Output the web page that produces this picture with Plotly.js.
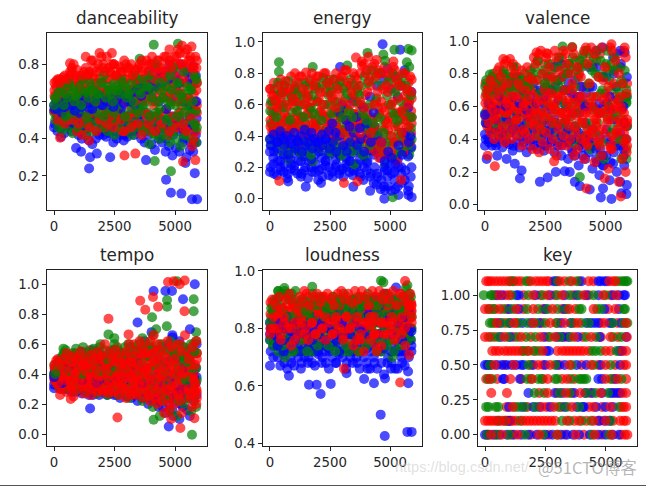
<!DOCTYPE html>
<html><head><meta charset="utf-8">
<script src="https://cdn.plot.ly/plotly-3.0.1.min.js"></script>
<style>html,body{margin:0;padding:0;background:#fff}</style></head>
<body><div id="chart" style="width:646px;height:486px"></div>
<script>
const titles=['danceability','energy','valence','tempo','loudness','key'];
const xTicks=[0,2500,5000];
const xB=[0,140,290,430,570,720,860,1010,1150,1290,1440,1580,1730,1870,2010,2160,2300,2450,2590,2730,2880,3020,3170,3310,3450,3600,3740,3890,4030,4170,4320,4460,4610,4750,4890,5040,5180,5320,5470,5610,5750,5890];
const xG=[50,190,340,480,620,770,910,1060,1200,1340,1490,1630,1780,1920,2060,2210,2350,2500,2640,2780,2930,3070,3220,3360,3500,3650,3790,3940,4080,4220,4370,4510,4660,4800,4940,5090,5230,5370,5520,5660,5800,5870];
const xR=[90,230,380,520,660,810,950,1100,1240,1380,1530,1670,1820,1960,2100,2250,2390,2540,2680,2820,2970,3110,3260,3400,3540,3690,3830,3980,4120,4260,4410,4550,4700,4840,4980,5130,5270,5410,5560,5700,5840,5880];
const xB2=[30,170,320,460,600,750,890,1040,1180,1320,1470,1610,1760,1900,2040,2190,2330,2480,2620,2760,2910,3050,3200,3340,3480,3630,3770,3920,4060,4200,4350,4490,4640,4780,4920,5070,5210,5350,5500,5640,5780,5860];
const xG2=[10,120,270,410,550,700,840,990,1130,1270,1420,1560,1710,1850,1990,2140,2280,2430,2570,2710,2860,3000,3150,3290,3430,3580,3720,3870,4010,4150,4300,4440,4590,4730,4870,5020,5160,5300,5450,5590,5730,5900];
const xR2=[20,160,310,450,590,740,880,1030,1170,1310,1460,1600,1750,1890,2030,2180,2320,2470,2610,2750,2900,3040,3190,3330,3470,3620,3760,3910,4050,4190,4340,4480,4630,4770,4910,5060,5200,5340,5490,5630,5770,5900];

const dB1=[.46,.44,.41,.43,.47,.44,.46,.42,.40,.45,.39,.37,.40,.42,.44,.41,.43,.38,.40,.42,.39,.41,.44,.42,.45,.40,.38,.42,.37,.34,.40,.38,.33,.36,.31,.35,.33,.38,.30,.34,.33,.38];
const dB2=[.55,.52,.50,.53,.49,.52,.48,.51,.47,.50,.53,.49,.52,.50,.47,.53,.51,.48,.52,.50,.47,.51,.53,.49,.52,.55,.50,.53,.48,.52,.46,.50,.45,.48,.52,.47,.50,.45,.48,.52,.47,.51];
const dB3=[.58,.56,.60,.57,.61,.58,.55,.60,.57,.62,.59,.56,.61,.63,.58,.60,.62,.57,.61,.64,.59,.62,.60,.65,.68,.63,.70,.66,.72,.68,.74,.70,.76,.72,.77,.74,.70,.78,.75,.72,.79,.60];
const dB4=[.48,.50,.46,.48,.52,.46,.50,.44,.48,.42,.46,.50,.44,.48,.42,.46,.50,.44,.46,.50,.42,.46,.48,.44,.48,.46,.44,.46,.50,.44,.42,.46,.40,.44,.42,.50,.44,.40,.46,.38,.44,.42];
const dB5=[.56,.60,.54,.58,.62,.56,.60,.54,.58,.64,.56,.60,.66,.58,.62,.66,.58,.64,.60,.56,.66,.60,.64,.58,.70,.60,.66,.76,.62,.78,.60,.74,.56,.80,.62,.66,.80,.60,.76,.58,.70,.74];
const dG1=[.50,.46,.44,.50,.46,.43,.48,.52,.45,.42,.48,.44,.50,.46,.52,.44,.48,.42,.46,.50,.44,.48,.42,.46,.50,.44,.47,.37,.43,.48,.40,.46,.50,.38,.44,.48,.36,.42,.52,.40,.46,.38];
const dG2=[.62,.56,.60,.52,.58,.54,.62,.56,.60,.52,.58,.62,.54,.60,.52,.56,.62,.54,.58,.62,.52,.60,.56,.62,.54,.58,.62,.52,.60,.54,.56,.62,.50,.58,.64,.52,.60,.54,.62,.56,.48,.55];
const dG3=[.62,.65,.68,.64,.70,.66,.63,.68,.72,.65,.70,.66,.64,.70,.74,.68,.64,.70,.66,.72,.68,.64,.70,.74,.66,.72,.68,.74,.66,.80,.70,.62,.68,.74,.78,.70,.64,.76,.68,.66,.74,.72];
const dG4=[.54,.52,.48,.54,.50,.56,.50,.46,.54,.48,.52,.48,.56,.50,.46,.54,.48,.52,.50,.46,.54,.50,.46,.52,.56,.48,.44,.54,.48,.42,.52,.46,.42,.52,.46,.40,.54,.48,.42,.50,.56,.46];
const dG5=[.58,.62,.66,.58,.62,.68,.60,.64,.58,.66,.62,.68,.60,.64,.70,.62,.66,.60,.68,.64,.70,.62,.66,.60,.70,.64,.58,.68,.62,.72,.60,.66,.72,.60,.66,.58,.70,.62,.58,.66,.60,.70];
const dR1=[.60,.64,.56,.60,.54,.58,.44,.52,.62,.48,.56,.60,.50,.58,.46,.54,.60,.50,.56,.44,.52,.58,.48,.54,.60,.46,.52,.44,.58,.50,.46,.54,.42,.60,.48,.52,.58,.44,.56,.36,.48,.44];
const dR2=[.68,.72,.66,.70,.74,.68,.72,.66,.70,.74,.68,.72,.66,.70,.64,.72,.68,.74,.66,.70,.72,.66,.74,.68,.62,.70,.66,.72,.64,.68,.74,.66,.62,.70,.66,.72,.64,.70,.62,.68,.60,.66];
const dR3=[.71,.70,.73,.72,.76,.80,.77,.74,.76,.74,.82,.78,.80,.84,.76,.78,.80,.74,.79,.76,.80,.78,.74,.77,.80,.76,.82,.80,.76,.82,.78,.84,.80,.78,.84,.88,.80,.86,.82,.78,.84,.78];
const dR4=[.63,.61,.65,.62,.66,.60,.64,.62,.66,.60,.64,.66,.60,.65,.62,.66,.60,.64,.62,.67,.60,.64,.66,.60,.64,.68,.60,.64,.68,.60,.66,.62,.68,.64,.70,.60,.66,.62,.70,.60,.64,.58];
const dR5=[.70,.72,.68,.74,.70,.76,.72,.68,.74,.70,.76,.73,.70,.76,.78,.72,.76,.80,.72,.76,.72,.78,.70,.76,.72,.78,.72,.76,.80,.72,.78,.72,.76,.82,.74,.80,.76,.72,.78,.82,.74,.70];
const dR6=[.55,.50,.54,.48,.56,.50,.54,.48,.42,.52,.46,.54,.44,.50,.54,.48,.52,.46,.54,.50,.44,.52,.46,.54,.48,.42,.54,.48,.52,.44,.54,.48,.56,.44,.52,.46,.54,.48,.44,.52,.40,.54];
const dR7=[.66,.64,.70,.67,.72,.78,.74,.70,.72,.78,.75,.82,.76,.72,.80,.84,.76,.80,.74,.78,.82,.76,.80,.72,.78,.82,.74,.80,.84,.78,.82,.76,.84,.88,.80,.84,.86,.80,.88,.84,.78,.82];
const dOutBx=[910,1120,1490,1450,2320,1770,3800,4630,4830,5260,5700,5910,5815,5430,5770];
const dOutBy=[.35,.33,.30,.24,.30,.32,.285,.18,.11,.105,.075,.075,.215,.27,.38];
const dOutGx=[4120,5120,3540,4160,4830,5840,5840];
const dOutGy=[.905,.91,.83,.28,.225,.72,.55];
const dOutRx=[250,2910,3360,1460,1880,2390,1310,5330,5840,5680,5290,660];
const dOutRy=[.405,.31,.32,.39,.86,.86,.84,.277,.285,.895,.90,.805];

const eB1=[.17,.22,.15,.20,.17,.13,.19,.21,.16,.14,.18,.13,.20,.17,.12,.19,.21,.15,.17,.20,.16,.19,.22,.17,.15,.20,.16,.12,.18,.14,.10,.16,.06,.08,.14,.05,.12,.08,.16,.12,.05,.20];
const eB2=[.30,.26,.32,.24,.28,.33,.25,.29,.31,.24,.27,.30,.25,.28,.32,.26,.24,.29,.31,.25,.28,.33,.26,.24,.29,.31,.25,.28,.23,.31,.28,.30,.26,.20,.18,.22,.17,.25,.20,.30,.27,.33];
const eB3=[.38,.41,.36,.43,.38,.40,.35,.42,.37,.40,.44,.36,.42,.38,.36,.41,.38,.43,.48,.42,.55,.60,.50,.46,.62,.52,.45,.58,.48,.65,.55,.72,.80,.76,.83,.70,.78,.65,.72,.82,.58,.68];
const eB4=[.20,.16,.24,.18,.22,.16,.22,.18,.24,.16,.20,.24,.17,.22,.18,.14,.24,.20,.14,.22,.18,.14,.20,.24,.18,.22,.14,.20,.24,.16,.20,.14,.12,.18,.08,.16,.06,.20,.10,.18,.08,.14];
const eB5=[.34,.30,.36,.40,.34,.28,.38,.32,.36,.30,.34,.40,.32,.36,.30,.34,.38,.32,.36,.30,.40,.34,.30,.36,.42,.34,.38,.30,.42,.36,.46,.40,.36,.24,.30,.26,.22,.34,.28,.42,.36,.40];
const eG1=[.34,.42,.30,.37,.28,.25,.33,.38,.30,.27,.36,.31,.24,.33,.36,.30,.34,.28,.37,.33,.27,.32,.36,.30,.22,.35,.29,.26,.38,.30,.37,.33,.30,.22,.27,.34,.25,.30,.38,.35,.28,.32];
const eG2=[.48,.55,.45,.60,.50,.46,.55,.62,.48,.52,.45,.58,.50,.47,.55,.43,.52,.60,.46,.55,.50,.44,.57,.49,.45,.54,.60,.47,.44,.52,.42,.58,.46,.50,.60,.55,.48,.42,.55,.50,.62,.45];
const eG3=[.62,.70,.74,.68,.72,.75,.65,.70,.74,.66,.72,.75,.66,.72,.70,.77,.74,.68,.76,.72,.75,.70,.67,.76,.72,.68,.72,.78,.74,.82,.76,.80,.72,.88,.75,.80,.68,.74,.78,.72,.84,.66];
const eG4=[.38,.46,.36,.42,.34,.40,.30,.44,.36,.30,.40,.34,.28,.38,.32,.36,.40,.34,.30,.38,.32,.28,.42,.34,.30,.38,.34,.28,.40,.34,.42,.36,.34,.30,.36,.40,.28,.36,.30,.40,.34,.38];
const eG5=[.56,.62,.52,.66,.58,.62,.50,.68,.56,.60,.52,.64,.58,.54,.62,.50,.60,.66,.54,.62,.58,.52,.64,.56,.52,.62,.66,.54,.50,.60,.48,.64,.52,.42,.66,.60,.54,.50,.62,.56,.68,.52];
const eR1=[.42,.38,.46,.40,.36,.42,.48,.38,.35,.44,.40,.37,.45,.39,.34,.42,.46,.37,.43,.40,.36,.44,.39,.34,.42,.46,.38,.35,.32,.44,.30,.26,.38,.34,.28,.36,.24,.40,.30,.45,.36,.42];
const eR2=[.55,.50,.60,.52,.58,.48,.62,.55,.50,.60,.54,.58,.48,.62,.56,.52,.60,.48,.56,.62,.52,.58,.50,.64,.54,.60,.52,.66,.58,.50,.62,.54,.58,.48,.52,.62,.55,.50,.58,.62,.52,.56];
const eR3=[.66,.62,.72,.68,.75,.70,.64,.74,.78,.70,.65,.76,.72,.78,.68,.80,.74,.66,.76,.70,.78,.82,.74,.68,.78,.72,.85,.80,.75,.84,.78,.80,.70,.72,.80,.84,.76,.72,.80,.70,.78,.68];
const eR4=[.46,.52,.44,.48,.54,.44,.50,.46,.52,.42,.48,.54,.44,.50,.46,.54,.42,.48,.52,.46,.54,.42,.50,.46,.54,.48,.42,.50,.54,.42,.46,.52,.36,.44,.50,.40,.46,.54,.42,.50,.46,.52];
const eR5=[.60,.66,.58,.64,.68,.60,.66,.70,.62,.68,.60,.66,.62,.70,.64,.60,.68,.72,.64,.58,.68,.62,.72,.60,.66,.70,.62,.58,.68,.72,.60,.68,.62,.56,.68,.60,.70,.64,.56,.66,.60,.64];
const eR6=[.50,.44,.56,.48,.42,.52,.44,.58,.46,.52,.48,.42,.54,.46,.40,.50,.44,.54,.40,.48,.44,.54,.46,.42,.50,.38,.46,.52,.38,.46,.36,.42,.32,.28,.44,.30,.36,.46,.42,.36,.52,.48];
const eR7=[.70,.74,.66,.76,.72,.68,.78,.72,.66,.78,.74,.70,.80,.74,.78,.72,.80,.76,.70,.80,.74,.78,.82,.72,.80,.76,.80,.86,.82,.78,.86,.82,.80,.84,.78,.74,.82,.78,.72,.80,.74,.76];
const eOutBx=[4690,1490,2125,3470,4170,4440,4760,5350,5760,5900,4790,760,2920,5420];
const eOutBy=[.985,.077,.10,.077,.05,.09,0,.024,.024,.01,.055,.11,.84,.95];
const eOutGx=[375,375,1780,3220,4060,4720,5180,5760,5900,5110,5700];
const eOutGy=[.87,.81,.84,.85,.93,.92,.95,.955,.945,.01,.87];
const eOutRx=[0,390,3080,3640,3580,1040,1500,3820,4100,4440,5140,5460];
const eOutRy=[.70,.113,.10,.11,.90,.80,.805,.875,.905,.885,.875,.12];

const vB1=[.36,.40,.36,.38,.42,.35,.40,.37,.33,.38,.35,.40,.32,.36,.40,.34,.38,.33,.36,.38,.32,.36,.30,.38,.28,.34,.30,.24,.35,.28,.32,.22,.28,.18,.24,.30,.15,.25,.20,.14,.30,.12];
const vB2=[.43,.50,.46,.52,.48,.44,.54,.50,.46,.52,.48,.44,.50,.55,.46,.52,.48,.44,.50,.46,.52,.48,.42,.50,.46,.40,.48,.44,.38,.50,.40,.46,.34,.42,.30,.46,.38,.52,.36,.44,.34,.48];
const vB3=[.55,.62,.70,.58,.66,.72,.60,.74,.66,.78,.62,.70,.58,.66,.74,.62,.70,.66,.78,.70,.84,.76,.86,.70,.80,.68,.76,.66,.72,.60,.84,.72,.94,.62,.96,.78,.66,.90,.72,.94,.60,.78];
const vB4=[.40,.38,.44,.36,.40,.46,.38,.44,.36,.42,.46,.38,.44,.40,.36,.44,.40,.36,.42,.40,.44,.38,.36,.44,.38,.32,.40,.36,.30,.42,.36,.38,.26,.34,.24,.40,.26,.32,.42,.36,.24,.40];
const vB5=[.50,.56,.60,.52,.58,.64,.52,.58,.66,.56,.60,.68,.54,.62,.58,.68,.56,.60,.70,.58,.72,.64,.78,.60,.74,.56,.64,.56,.62,.68,.72,.60,.84,.56,.78,.62,.58,.80,.64,.86,.50,.66];
const vG1=[.50,.46,.54,.44,.48,.52,.43,.50,.47,.54,.44,.50,.46,.53,.48,.42,.50,.45,.52,.46,.50,.42,.48,.52,.44,.38,.46,.38,.42,.48,.34,.36,.50,.30,.28,.52,.44,.36,.50,.28,.40,.34];
const vG2=[.68,.62,.72,.60,.66,.56,.70,.62,.74,.58,.68,.64,.74,.60,.70,.66,.56,.72,.62,.68,.58,.72,.64,.60,.70,.62,.56,.66,.60,.72,.60,.66,.58,.68,.56,.62,.70,.54,.64,.58,.66,.62];
const vG3=[.76,.70,.80,.74,.78,.82,.76,.72,.84,.78,.74,.80,.72,.78,.84,.88,.80,.74,.86,.82,.76,.90,.84,.80,.86,.90,.82,.88,.92,.94,.86,.90,.94,.88,.80,.94,.86,.90,.84,.76,.82,.70];
const vG4=[.56,.52,.60,.50,.58,.62,.50,.56,.64,.52,.60,.56,.64,.50,.60,.54,.48,.62,.54,.60,.50,.62,.56,.50,.60,.54,.48,.58,.50,.62,.50,.58,.44,.56,.38,.58,.60,.46,.56,.40,.52,.48];
const vG5=[.72,.66,.76,.68,.74,.70,.80,.68,.78,.72,.70,.76,.66,.72,.80,.76,.68,.82,.72,.78,.70,.84,.76,.70,.80,.84,.72,.78,.84,.86,.74,.82,.80,.78,.70,.86,.76,.82,.72,.68,.74,.66];
const vR1=[.48,.44,.40,.46,.42,.38,.44,.40,.46,.42,.36,.44,.40,.34,.42,.32,.38,.44,.34,.40,.30,.36,.42,.36,.40,.30,.34,.40,.28,.36,.44,.26,.38,.30,.44,.22,.34,.40,.14,.28,.20,.32];
const vR2=[.58,.66,.54,.70,.60,.66,.56,.62,.72,.58,.66,.54,.70,.62,.58,.68,.56,.64,.72,.60,.68,.56,.70,.62,.58,.66,.54,.72,.58,.46,.66,.52,.56,.46,.68,.58,.42,.66,.52,.58,.48,.40];
const vR3=[.70,.76,.72,.82,.78,.86,.74,.84,.80,.74,.82,.70,.78,.76,.86,.92,.80,.90,.84,.78,.90,.82,.94,.86,.80,.92,.84,.78,.94,.86,.96,.92,.78,.96,.84,.72,.94,.88,.80,.74,.90,.68];
const vR4=[.54,.50,.60,.52,.58,.48,.56,.50,.60,.52,.58,.46,.56,.50,.48,.56,.46,.54,.60,.50,.58,.46,.56,.52,.48,.56,.44,.60,.50,.38,.56,.42,.48,.36,.60,.50,.34,.58,.44,.50,.38,.52];
const vR5=[.66,.72,.62,.76,.68,.74,.64,.70,.78,.66,.74,.62,.76,.70,.66,.76,.64,.74,.78,.68,.76,.66,.78,.70,.64,.74,.62,.80,.66,.56,.74,.60,.66,.56,.76,.66,.52,.74,.60,.66,.56,.50];
const vR6=[.74,.70,.78,.72,.84,.80,.88,.78,.86,.84,.78,.74,.84,.82,.90,.88,.94,.86,.92,.86,.94,.88,.90,.92,.86,.96,.88,.84,.90,.96,.92,.84,.88,.92,.78,.84,.96,.82,.92,.84,.94,.74];
const vR7=[.62,.68,.58,.64,.56,.72,.62,.58,.66,.52,.72,.60,.64,.56,.52,.62,.50,.70,.66,.54,.62,.50,.66,.56,.52,.70,.48,.66,.52,.42,.62,.46,.52,.40,.64,.54,.36,.62,.46,.60,.44,.36];
const vOutBx=[70,510,900,1240,1520,1450,2280,2600,2940,3310,3520,3730,3940,4350,4810,5250,5660,5870,4900,5800];
const vOutBy=[.28,.30,.28,.25,.21,.16,.14,.167,.20,.205,.20,.14,.114,.093,.045,.035,.07,.065,.10,.93];
const vOutGx=[200,3220,3620,4140,3940,5870,5870];
const vOutGy=[.795,.967,.963,.40,.17,.63,.28];
const vOutRx=[410,110,2870,760,1040,2140,2555,4210,4970,5640,5250,5800];
const vOutRy=[.235,.30,.265,.89,.89,.93,.925,.10,.16,.05,.98,.96];

const tB1=[.33,.36,.30,.34,.30,.28,.32,.29,.27,.31,.26,.28,.30,.26,.28,.32,.27,.30,.26,.24,.28,.25,.30,.26,.22,.28,.24,.20,.26,.22,.18,.24,.14,.20,.16,.22,.10,.18,.24,.12,.30,.26];
const tB2=[.40,.44,.38,.42,.46,.40,.36,.44,.39,.35,.42,.37,.44,.40,.36,.42,.38,.34,.41,.37,.33,.40,.36,.32,.38,.42,.35,.30,.38,.33,.28,.36,.30,.24,.34,.28,.38,.32,.26,.36,.42,.38];
const tB3=[.38,.42,.46,.50,.44,.52,.47,.50,.55,.48,.52,.56,.50,.54,.48,.52,.46,.56,.50,.54,.47,.52,.58,.46,.50,.56,.62,.58,.68,.56,.50,.58,.48,.60,.66,.50,.62,.44,.55,.70,.54,.60];
const tB4=[.36,.32,.40,.30,.36,.33,.28,.36,.32,.28,.34,.26,.32,.36,.28,.26,.32,.26,.30,.28,.34,.26,.24,.30,.28,.24,.32,.26,.22,.30,.22,.18,.30,.24,.12,.28,.20,.32,.16,.28,.22,.34];
const tB5=[.42,.48,.34,.44,.40,.48,.42,.46,.36,.44,.48,.40,.34,.46,.42,.36,.44,.48,.38,.44,.40,.46,.42,.52,.46,.34,.44,.52,.36,.46,.42,.34,.44,.36,.52,.42,.30,.50,.34,.48,.38,.44];
const tG1=[.36,.32,.38,.30,.34,.36,.29,.33,.37,.28,.32,.34,.27,.31,.35,.26,.30,.33,.26,.34,.28,.24,.32,.27,.35,.22,.30,.25,.18,.28,.12,.22,.30,.15,.24,.12,.28,.20,.30,.15,.25,.18];
const tG2=[.44,.48,.42,.52,.46,.40,.50,.44,.48,.42,.52,.46,.40,.50,.44,.38,.48,.42,.50,.40,.46,.52,.40,.46,.42,.50,.38,.44,.50,.36,.46,.40,.34,.50,.40,.46,.36,.52,.40,.46,.34,.44];
const tG3=[.40,.46,.52,.56,.50,.54,.57,.52,.58,.54,.50,.57,.54,.60,.56,.50,.55,.60,.56,.52,.58,.60,.54,.56,.60,.64,.58,.60,.66,.70,.60,.55,.72,.62,.55,.60,.52,.58,.48,.60,.55,.62];
const tG4=[.40,.36,.44,.38,.42,.46,.34,.40,.44,.36,.44,.40,.34,.44,.38,.34,.42,.38,.32,.42,.36,.30,.42,.34,.40,.30,.38,.32,.40,.30,.38,.30,.24,.40,.32,.38,.22,.34,.40,.24,.30,.36];
const tG5=[.46,.42,.50,.54,.42,.48,.52,.46,.40,.50,.44,.54,.46,.42,.52,.46,.42,.54,.44,.48,.54,.44,.48,.52,.46,.56,.50,.52,.58,.46,.54,.48,.42,.56,.48,.54,.44,.50,.36,.52,.44,.54];
const tR1=[.34,.30,.36,.28,.32,.25,.30,.34,.27,.31,.26,.33,.28,.30,.35,.27,.30,.33,.26,.30,.24,.28,.33,.26,.30,.24,.28,.22,.30,.20,.26,.14,.24,.10,.20,.28,.14,.24,.30,.18,.28,.20];
const tR2=[.42,.38,.44,.40,.36,.42,.46,.38,.44,.40,.37,.43,.39,.45,.40,.36,.42,.38,.44,.35,.41,.37,.43,.38,.34,.40,.44,.36,.32,.40,.34,.28,.38,.32,.40,.26,.36,.42,.30,.38,.34,.30];
const tR3=[.49,.46,.50,.54,.48,.52,.50,.55,.50,.47,.53,.50,.55,.52,.60,.54,.50,.56,.52,.48,.55,.60,.52,.56,.62,.58,.54,.62,.66,.60,.56,.52,.62,.58,.50,.60,.55,.66,.50,.58,.46,.62];
const tR4=[.38,.34,.40,.44,.38,.32,.42,.36,.46,.34,.40,.46,.32,.38,.44,.32,.40,.46,.34,.40,.30,.44,.38,.30,.36,.44,.32,.38,.44,.28,.38,.44,.30,.20,.44,.34,.44,.30,.38,.26,.40,.24];
const tR5=[.46,.42,.48,.36,.50,.44,.40,.50,.46,.42,.48,.54,.42,.50,.46,.42,.48,.52,.40,.46,.50,.42,.48,.44,.54,.50,.42,.54,.48,.56,.50,.40,.54,.48,.30,.54,.42,.58,.46,.52,.36,.54];
const tR6=[.36,.40,.32,.38,.46,.30,.36,.42,.32,.38,.34,.30,.40,.34,.28,.38,.32,.28,.36,.32,.38,.30,.26,.34,.28,.36,.30,.26,.36,.24,.32,.22,.34,.16,.26,.36,.22,.30,.36,.24,.32,.28];
const tR7=[.44,.50,.46,.42,.52,.48,.54,.44,.52,.46,.56,.46,.52,.58,.50,.46,.56,.48,.58,.52,.46,.54,.48,.60,.46,.54,.60,.46,.56,.50,.44,.60,.46,.42,.56,.46,.60,.40,.56,.46,.60,.50];
const tOutBx=[0,1490,4115,4600,4875,5330,5815,3450,4740,4900];
const tOutBy=[.305,.17,.955,.955,.955,.90,1.0,.745,.05,.645];
const tOutGx=[390,2250,2490,4050,4670,4670,5770,5700,4115,5770,5870,5080];
const tOutGy=[.57,.665,.64,.78,.895,.85,.90,-.005,.095,.82,.68,1.02];
const tOutRx=[2250,2620,250,690,3560,3770,4090,4300,4710,4945,5400,5190,5390,5220,3080,5800];
const tOutRy=[.77,.11,.26,.234,.89,.83,.915,.85,1.015,1.02,1.025,1.0,.82,.04,.665,.105];

const lB1=[.76,.70,.74,.67,.71,.66,.70,.67,.72,.66,.70,.68,.72,.67,.71,.68,.72,.66,.70,.68,.71,.70,.66,.72,.68,.70,.66,.73,.68,.66,.70,.66,.72,.64,.68,.66,.72,.66,.70,.67,.65,.72];
const lB2=[.78,.74,.78,.75,.72,.76,.73,.78,.74,.72,.76,.73,.78,.74,.72,.76,.74,.73,.78,.75,.72,.76,.73,.78,.72,.74,.78,.76,.73,.78,.74,.76,.78,.73,.76,.72,.74,.78,.72,.75,.78,.74];
const lB3=[.82,.80,.77,.82,.80,.84,.79,.82,.78,.84,.80,.82,.78,.84,.80,.82,.86,.80,.84,.78,.86,.82,.88,.80,.86,.83,.80,.88,.84,.86,.90,.85,.88,.92,.84,.90,.86,.82,.88,.84,.80,.79];
const lB4=[.72,.76,.70,.72,.68,.74,.68,.72,.70,.68,.74,.70,.68,.72,.74,.70,.68,.72,.74,.68,.72,.74,.68,.70,.74,.68,.72,.70,.66,.72,.68,.72,.68,.74,.70,.68,.66,.72,.68,.72,.70,.76];
const lB5=[.80,.78,.74,.80,.76,.78,.82,.76,.80,.84,.78,.80,.76,.82,.78,.80,.76,.84,.80,.76,.82,.78,.84,.78,.82,.76,.86,.80,.78,.88,.82,.78,.86,.80,.88,.78,.84,.80,.76,.82,.86,.80];
const lG1=[.80,.76,.72,.74,.70,.76,.72,.78,.74,.72,.77,.74,.72,.76,.78,.74,.76,.80,.74,.77,.78,.72,.76,.80,.74,.72,.78,.74,.76,.80,.75,.78,.72,.76,.80,.70,.76,.74,.80,.76,.78,.76];
const lG2=[.84,.80,.86,.82,.78,.84,.80,.86,.82,.80,.84,.86,.82,.78,.85,.82,.86,.84,.80,.86,.83,.80,.85,.82,.86,.80,.84,.86,.82,.80,.84,.82,.86,.80,.84,.86,.82,.80,.85,.82,.84,.80];
const lG3=[.87,.90,.93,.92,.93,.90,.92,.93,.88,.90,.86,.89,.92,.88,.91,.90,.87,.89,.91,.88,.90,.92,.89,.87,.90,.91,.88,.90,.92,.89,.90,.88,.91,.92,.89,.91,.90,.87,.91,.94,.92,.91];
const lG4=[.76,.74,.78,.80,.74,.80,.76,.72,.78,.76,.80,.72,.76,.78,.74,.80,.78,.74,.78,.72,.76,.78,.74,.72,.78,.76,.72,.78,.74,.76,.78,.72,.76,.80,.74,.76,.72,.78,.74,.78,.76,.80];
const lG5=[.82,.86,.90,.88,.86,.92,.84,.90,.86,.84,.90,.84,.88,.84,.90,.86,.84,.88,.86,.84,.90,.86,.88,.84,.90,.86,.84,.88,.90,.84,.88,.86,.84,.90,.86,.88,.84,.86,.90,.86,.88,.84];
const lR1=[.82,.78,.84,.80,.76,.82,.78,.84,.80,.76,.83,.79,.85,.80,.77,.83,.79,.85,.81,.77,.84,.80,.76,.83,.78,.72,.80,.76,.84,.78,.74,.82,.78,.84,.80,.76,.84,.80,.78,.84,.80,.86];
const lR2=[.88,.85,.83,.87,.85,.82,.88,.85,.83,.88,.86,.84,.88,.85,.83,.88,.86,.83,.88,.85,.82,.87,.84,.88,.85,.82,.88,.84,.87,.82,.86,.84,.88,.82,.86,.84,.88,.85,.82,.87,.84,.89];
const lR3=[.90,.88,.91,.87,.90,.92,.89,.87,.91,.89,.92,.88,.91,.92,.89,.91,.92,.90,.88,.92,.93,.90,.92,.89,.93,.90,.93,.91,.88,.93,.91,.93,.90,.92,.90,.93,.88,.92,.91,.89,.92,.88];
const lR4=[.85,.82,.87,.83,.80,.86,.82,.88,.83,.80,.87,.82,.88,.84,.80,.86,.83,.88,.84,.80,.87,.83,.80,.86,.82,.76,.84,.80,.87,.81,.78,.85,.82,.87,.83,.80,.87,.83,.80,.87,.83,.88];
const lR5=[.78,.80,.86,.78,.82,.88,.80,.76,.86,.82,.78,.88,.82,.78,.86,.80,.84,.88,.78,.83,.88,.78,.84,.80,.88,.84,.76,.82,.88,.84,.78,.88,.82,.78,.88,.82,.78,.88,.84,.80,.88,.84];
const lR6=[.89,.86,.90,.87,.91,.86,.90,.88,.85,.90,.87,.91,.86,.90,.88,.91,.85,.89,.91,.87,.90,.88,.91,.86,.90,.87,.91,.85,.90,.87,.91,.86,.90,.88,.92,.87,.90,.86,.92,.88,.90,.86];
const lR7=[.80,.84,.80,.76,.84,.80,.74,.82,.78,.84,.80,.76,.82,.78,.85,.80,.76,.82,.78,.84,.80,.76,.84,.80,.74,.82,.78,.72,.82,.76,.84,.78,.74,.82,.78,.84,.76,.82,.78,.74,.86,.82];
const lOutBx=[0,790,1625,1945,2110,2530,3190,3920,4330,4610,4780,5720,5900,5760,5250,4790];
const lOutBy=[.67,.635,.604,.604,.572,.607,.644,.624,.609,.50,.426,.44,.44,.609,.942,.626];
const lOutGx=[600,350,1760,4625,4720,5720];
const lOutGy=[.94,.93,.945,.966,.96,.95];
const lOutRx=[1430,5625,3080,5420,5800,4440];
const lOutRy=[.93,.965,.66,.612,.708,.72];

const keyLevels=[0,.1,.2,.3,.4,.5,.6,.7,.8,.9,1.0,1.1];
const keyBlue=[
[0,150,350,600,900,1200,1500,1800,2150,2500,2800,3150,3400,3650,3900,4350,4700,5000,5300,5550],
[950,1050,4700,4950,5150],
[1000,1550,2000,2250,2700,3300,3800,4050,4100,4600,5000,5300],
[1800,2900,3200,3700,4150,4450,4850,5200,5300,5500,5600],
[750,800,1450,4700,4850,5400],
[0,100,250,500,700,900,1100,1300,1500,1600,2000,2500,3000,3300,3800,4200,4800,5600],
[2550,2650,5550,5650],
[650,1050,2450,3000,3200,3450,3850,4750,5850],
[600,1050,1550,1900,2250,3150,3550,4200,4400,4550,4700,5150,5250,5650],
[1000,1400,2500,3300,4950,5550],
[500,700,1300,1400,2100,2700,3300,3800,4200,4700,5300,5550,5750,5800],
[2850,2950,4000,4700,4800,4950,5050]];
const keyGreen=[
[100,500,1000,1650,2400,3000,4450,5150],
[550,850,1450,3200,3500,4000,4400,5200],
[50,150,450,550,1250,1400,1650,2100,3050,3400,3900,5550],
[2050,2450,3100,3500,4200,4600,5100],
[120,280,1750,1900,2200,2350,2900,3000,3550,3900,4000,4100,4200,5200,5650],
[200,1800,2900,3600,4500,5200],
[1600,1750,2000,2250,4450,4600,4800,5450],
[250,550,950,1350,1700,2100,2700,3100,3550,4200,4600,5300,5650],
[200,300,700,1000,1400,1750,2100,2500,2950,3600,4000,4300,5300,5750,5900],
[200,350,750,1150,1750,2200,2600,3000,3400,3900,4000,4650,4800,5750,5800],
[-50,250,300,1100,1800,2400,3000,3500,3900,4500,5000],
[1050,1150,1700,1800,3000,3500,3800,5500,5650,5750,5850,5900]];
const keyRed=[
[80,250,450,700,1100,1350,1900,2250,2650,3000,3300,3750,4100,4550,4850,5250,5650,5800,5900],
[0,120,240,360,480,600,720,840,1000,1150,1300,1550,1700,1850,2000,2150,2300,2450,2600,2750,2900,3400,3700,3900,4200,4500,4750,5000,5300,5600,5750,5850],
[900,1150,1750,2350,2550,2850,3150,3600,4300,4500,4850,5200,5650,5750,5850],
[260,910,2250,2600,3000,3350,3600,3950,4350,4800,5400,5700,5850],
[50,200,500,1050,1500,1950,2400,2600,3200,3400,3700,5000,5300,5500,5850],
[150,400,800,1200,1900,2200,2400,2700,3100,3500,4000,4400,4700,5000,5400,5750,5850],
[300,450,600,800,950,1100,1250,1400,1550,1800,2100,2400,3000,3200,3350,3500,3650,3800,3950,4100,4300,5000,5200,5700,5850],
[0,150,400,800,1200,1500,1900,2300,2600,2900,3300,3700,4050,4400,4800,5200,5500,5880],
[400,500,850,1200,1300,2000,2350,2700,3000,3300,3700,3850,4800,4950,5500,5850],
[0,150,400,600,900,1300,1600,2000,2400,2800,3200,3500,3750,4500,5100,5400],
[400,600,850,1000,1600,2000,2300,2600,2900,3200,3650,4100,4300,4900,5200,5450],
[50,150,250,400,550,700,850,1000,1200,1350,1500,1900,2100,2250,2400,2550,2650,3100,3300,3600,3900,4300,4500,5150,5300,5400]];

const yTicks=[[.2,.4,.6,.8],[0,.2,.4,.6,.8,1],[0,.2,.4,.6,.8,1],[0,.2,.4,.6,.8,1],[.4,.6,.8,1],[0,.25,.5,.75,1]];
const yTickText=[['0.2','0.4','0.6','0.8'],['0.0','0.2','0.4','0.6','0.8','1.0'],['0.0','0.2','0.4','0.6','0.8','1.0'],['0.0','0.2','0.4','0.6','0.8','1.0'],['0.4','0.6','0.8','1.0'],['0.00','0.25','0.50','0.75','1.00']];
const yRanges=[[.017,.968],[-.072,1.057],[-.032,1.049],[-.08,1.095],[.391,1.003],[-.08,1.18]];
const xRanges=[[-290,6320],[-290,6330],[-310,6290],[-290,6320],[-290,6330],[-290,6300]];
const boxes=[[47,207,33,210],[263,422,33,210],[477.5,636.5,33,210],[47,207,270,446],[263,422,270,446],[478,637,270,446]];

const W=646,H=486;
const colors={b:'blue',g:'green',r:'red'};
const traces=[];
function add(ax,x,y,c){
  const n=ax===0?'':String(ax+1);
  traces.push({type:'scatter',mode:'markers',x:x,y:y,xaxis:'x'+n,yaxis:'y'+n,showlegend:false,hoverinfo:'skip',
    marker:{color:colors[c],size:10,opacity:.7,line:{width:0}}});
}
const rows=[
 {B:[dB1,dB2,dB3,dB4,dB5],G:[dG1,dG2,dG3,dG4,dG5],R:[dR1,dR2,dR3,dR4,dR5,dR6,dR7]},
 {B:[eB1,eB2,eB3,eB4,eB5],G:[eG1,eG2,eG3,eG4,eG5],R:[eR1,eR2,eR3,eR4,eR5,eR6,eR7]},
 {B:[vB1,vB2,vB3,vB4,vB5],G:[vG1,vG2,vG3,vG4,vG5],R:[vR1,vR2,vR3,vR4,vR5,vR6,vR7]},
 {B:[tB1,tB2,tB3,tB4,tB5],G:[tG1,tG2,tG3,tG4,tG5],R:[tR1,tR2,tR3,tR4,tR5,tR6,tR7]},
 {B:[lB1,lB2,lB3,lB4,lB5],G:[lG1,lG2,lG3,lG4,lG5],R:[lR1,lR2,lR3,lR4,lR5,lR6,lR7]}];
const outs=[
 [dOutBx,dOutBy,dOutGx,dOutGy,dOutRx,dOutRy],
 [eOutBx,eOutBy,eOutGx,eOutGy,eOutRx,eOutRy],
 [vOutBx,vOutBy,vOutGx,vOutGy,vOutRx,vOutRy],
 [tOutBx,tOutBy,tOutGx,tOutGy,tOutRx,tOutRy],
 [lOutBx,lOutBy,lOutGx,lOutGy,lOutRx,lOutRy]];
rows.forEach((r,p)=>{
  const o=outs[p];
  add(p,o[0],o[1],'b');add(p,o[2],o[3],'g');
  add(p,xB,r.B[0],'b');add(p,xB2,r.B[3],'b');add(p,xG,r.G[0],'g');
  add(p,xB,r.B[1],'b');add(p,xR,r.R[0],'r');add(p,xG2,r.G[3],'g');
  add(p,xR2,r.R[5],'r');add(p,xB2,r.B[4],'b');add(p,xG,r.G[1],'g');
  add(p,xR2,r.R[3],'r');add(p,xR,r.R[1],'r');add(p,xB,r.B[2],'b');
  add(p,xG2,r.G[4],'g');add(p,xR2,r.R[4],'r');add(p,xR2,r.R[6],'r');
  add(p,xG,r.G[2],'g');add(p,xR,r.R[2],'r');
  add(p,o[4],o[5],'r');
});
keyRed.forEach((xs,i)=>{const a=xs.filter((v,j)=>j%2===0);add(5,a,a.map(()=>keyLevels[i]),'r');});
keyBlue.forEach((xs,i)=>add(5,xs,xs.map(()=>keyLevels[i]),'b'));
keyGreen.forEach((xs,i)=>add(5,xs,xs.map(()=>keyLevels[i]),'g'));
keyRed.forEach((xs,i)=>{const a=xs.filter((v,j)=>j%2===1);add(5,a,a.map(()=>keyLevels[i]),'r');});

const font={family:'"DejaVu Sans",sans-serif',size:13.3,color:'#262626'};
const layout={width:W,height:H,margin:{l:0,r:0,t:0,b:0},paper_bgcolor:'#fff',plot_bgcolor:'#fff',font:font,showlegend:false,annotations:[],
 shapes:[{type:'line',xref:'paper',yref:'paper',x0:0,x1:1,y0:.5/H,y1:.5/H,line:{color:'#555',width:1}}]};
boxes.forEach((b,i)=>{
  const n=i===0?'':String(i+1);
  layout['xaxis'+n]={domain:[b[0]/W,b[1]/W],range:xRanges[i],tickmode:'array',tickvals:xTicks,ticktext:xTicks.map(String),
    anchor:'y'+n,showgrid:false,zeroline:false,showline:true,mirror:true,linecolor:'#222',linewidth:1,ticks:'outside',ticklen:4,tickcolor:'#222',tickfont:font};
  layout['yaxis'+n]={domain:[1-b[3]/H,1-b[2]/H],range:yRanges[i],tickmode:'array',tickvals:yTicks[i],ticktext:yTickText[i],
    anchor:'x'+n,showgrid:false,zeroline:false,showline:true,mirror:true,linecolor:'#222',linewidth:1,ticks:'outside',ticklen:4,tickcolor:'#222',tickfont:font};
  layout.annotations.push({text:titles[i],xref:'paper',yref:'paper',x:(b[0]+b[1])/2/W,y:1-(b[2]-15)/H,xanchor:'center',yanchor:'middle',showarrow:false,
    font:{family:font.family,size:16.8,color:'#262626'}});
});
layout.annotations.push({text:'https://blog.csdn.net/',xref:'paper',yref:'paper',x:393/W,y:1-467/H,xanchor:'left',yanchor:'middle',showarrow:false,font:{family:'"Liberation Sans",sans-serif',size:14.5,color:'rgba(200,200,200,.55)'}});
layout.annotations.push({text:'@51CTO博客',xref:'paper',yref:'paper',x:639/W,y:1-467/H,xanchor:'right',yanchor:'middle',showarrow:false,font:{family:'"Noto Sans CJK SC",'+font.family,size:16.5,color:'rgba(150,150,150,.7)'}});
Plotly.newPlot('chart',traces,layout,{displayModeBar:false,staticPlot:true});
</script></body></html>
